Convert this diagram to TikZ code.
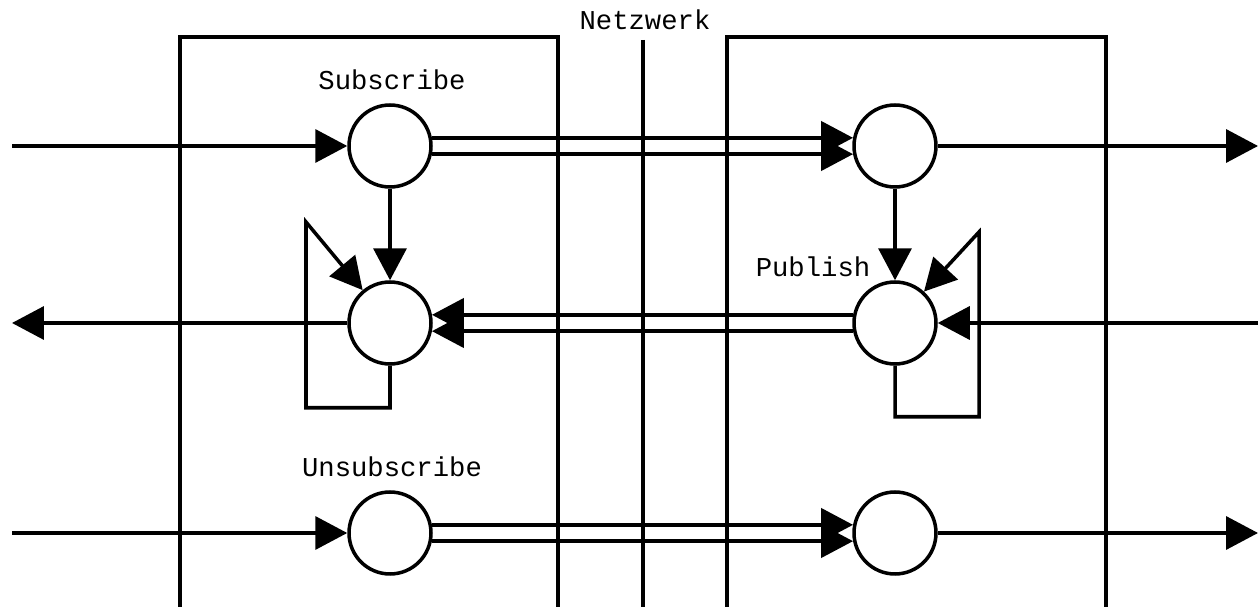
\documentclass[tikz,border=0pt]{standalone}
\usepackage{fontspec}
\setmonofont{Liberation Mono}
\usetikzlibrary{arrows.meta,calc}

\begin{document}
\begin{tikzpicture}[
  x=0.02cm, y=-0.02cm, line width=2pt,
  every node/.style={font=\ttfamily\fontsize{15.5}{18}\selectfont},
  port/.style={draw, circle, minimum size=1.64cm, inner sep=0pt},
  arrow/.style={-{Triangle[length=0.64cm, width=0.66cm]}},
]
\useasboundingbox (0,0) rectangle (1258,607);

% ---- hosts and network -----------------------------------------------
\draw (180,607) -- (180,37) -- (558,37) -- (558,607);
\draw (727,607) -- (727,37) -- (1106,37) -- (1106,607);
\draw (643,40) -- (643,607);
\node (net) at (645,20) {Netzwerk};

% ---- ports -------------------------------------------------------------
\node[port] (subL) at (390,146) {};
\node[port] (subR) at (895,146) {};
\node[port] (pubL) at (390,323) {};
\node[port] (pubR) at (895,323) {};
\node[port] (unsL) at (390,533) {};
\node[port] (unsR) at (895,533) {};

\node (subT) at (392,80)  {Subscribe};
\node (pubT) at (813,267) {Publish};
\node (unsT) at (392,467) {Unsubscribe};

% ---- free ends ---------------------------------------------------------
\coordinate (inA)  at (12,146);
\coordinate (outA) at (1258,146);
\coordinate (outB) at (12,323);
\coordinate (inB)  at (1258,323);
\coordinate (inC)  at (12,533);
\coordinate (outC) at (1258,533);
\coordinate (loopL) at (306,222);
\coordinate (loopR) at (979,232);

% ---- subscribe ---------------------------------------------------------
\draw[arrow] (inA) -- (subL);
\draw[arrow] (subL.11) -- (subR.169);
\draw[arrow] (subL.-11) -- (subR.-169);
\draw[arrow] (subR) -- (outA);
\draw[arrow] (subL) -- (pubL);
\draw[arrow] (subR) -- (pubR);

% ---- publish -----------------------------------------------------------
\draw[arrow] (pubL) -- (outB);
\draw[arrow] (pubR.169) -- (pubL.11);
\draw[arrow] (pubR.-169) -- (pubL.-11);
\draw[arrow] (inB) -- (pubR);
\draw[arrow] (pubL.south) -- ++(0,42) -| (loopL) -- (pubL);
\draw[arrow] (pubR.south) -- ++(0,51) -| (loopR) -- (pubR);

% ---- unsubscribe -------------------------------------------------------
\draw[arrow] (inC) -- (unsL);
\draw[arrow] (unsL.11) -- (unsR.169);
\draw[arrow] (unsL.-11) -- (unsR.-169);
\draw[arrow] (unsR) -- (outC);

\end{tikzpicture}
\end{document}
